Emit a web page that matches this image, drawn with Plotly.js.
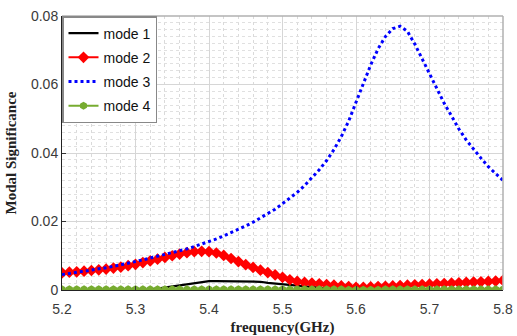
<!DOCTYPE html>
<html>
<head>
<meta charset="utf-8">
<script src="https://cdn.plot.ly/plotly-3.0.1.min.js"></script>
<style>html,body{margin:0;padding:0;background:#fff;}#chart{width:517px;height:336px;}</style>
</head>
<body>
<div id="chart"></div>
<script>
var freq = [5.20,5.21,5.22,5.23,5.24,5.25,5.26,5.27,5.28,5.29,
            5.30,5.31,5.32,5.33,5.34,5.35,5.36,5.37,5.38,5.39,
            5.40,5.41,5.42,5.43,5.44,5.45,5.46,5.47,5.48,5.49,
            5.50,5.51,5.52,5.53,5.54,5.55,5.56,5.57,5.58,5.59,
            5.60,5.61,5.62,5.63,5.64,5.65,5.66,5.67,5.68,5.69,
            5.70,5.71,5.72,5.73,5.74,5.75,5.76,5.77,5.78,5.79,5.80];

var mode1 = [0.0000,0.0000,0.0000,0.0000,0.0000,0.0000,0.0000,0.0001,0.0001,0.0001,
             0.0001,0.0002,0.0002,0.0004,0.0007,0.0010,0.0013,0.0017,0.0021,0.0024,
             0.0026,0.0026,0.0026,0.0026,0.0026,0.0026,0.0025,0.0024,0.0021,0.0019,
             0.0017,0.0014,0.0011,0.0009,0.0007,0.0006,0.0005,0.0005,0.0004,0.0004,
             0.0003,0.0003,0.0003,0.0002,0.0002,0.0002,0.0002,0.0002,0.0001,0.0001,
             0.0001,0.0001,0.0001,0.0001,0.0001,0.0001,0.0001,0.0001,0.0001,0.0001,0.0001];

var mode2 = [0.0050,0.0052,0.0053,0.0055,0.0057,0.0059,0.0061,0.0064,0.0067,0.0071,
             0.0075,0.0080,0.0085,0.0090,0.0095,0.0100,0.0105,0.0109,0.0112,0.0113,
             0.0112,0.0108,0.0101,0.0092,0.0083,0.0074,0.0066,0.0058,0.0051,0.0044,
             0.0037,0.0030,0.0025,0.0022,0.0020,0.0018,0.0016,0.0014,0.0012,0.0010,
             0.0008,0.0008,0.0009,0.0010,0.0011,0.0012,0.0013,0.0014,0.0015,0.0016,
             0.0017,0.0018,0.0019,0.0020,0.0021,0.0022,0.0023,0.0024,0.0025,0.0026,0.0028];

var mode3 = [0.0045,0.0048,0.0051,0.0054,0.0057,0.0061,0.0065,0.0069,0.0073,0.0078,
             0.0083,0.0088,0.0093,0.0098,0.0103,0.0108,0.0114,0.0120,0.0127,0.0134,
             0.0141,0.0149,0.0158,0.0167,0.0176,0.0187,0.0198,0.0210,0.0222,0.0236,
             0.0252,0.0268,0.0285,0.0305,0.0327,0.0351,0.0378,0.0410,0.0448,0.0493,
             0.0548,0.0604,0.0657,0.0704,0.0740,0.0763,0.0770,0.0755,0.0718,0.0675,
             0.0630,0.0585,0.0545,0.0508,0.0470,0.0438,0.0410,0.0385,0.0360,0.0340,0.0320];

var mode4 = [0.0002,0.0002,0.0002,0.0002,0.0002,0.0002,0.0002,0.0002,0.0002,0.0002,
             0.0002,0.0002,0.0002,0.0002,0.0002,0.0002,0.0002,0.0002,0.0002,0.0002,
             0.0002,0.0002,0.0002,0.0002,0.0002,0.0002,0.0002,0.0002,0.0002,0.0002,
             0.0002,0.0002,0.0002,0.0002,0.0002,0.0002,0.0002,0.0002,0.0002,0.0001,
             0.0001,0.0001,0.0001,0.0001,0.0002,0.0002,0.0002,0.0002,0.0002,0.0002,
             0.0002,0.0002,0.0002,0.0002,0.0002,0.0002,0.0002,0.0002,0.0002,0.0002,0.0002];

var seriesNames = ['mode 1','mode 2','mode 3','mode 4'];
var xTicks = [5.2,5.3,5.4,5.5,5.6,5.7,5.8];
var yTicks = [0,0.02,0.04,0.06,0.08];
var yTickText = ['0','0.02','0.04','0.06','0.08'];

var traces = [
  {x: freq, y: mode1, name: seriesNames[0], legendgroup: 'g1', type: 'scatter', mode: 'lines',
   line: {color: '#000000', width: 2.2}},
  {x: freq, y: mode2, name: seriesNames[1], legendgroup: 'g2', type: 'scatter', mode: 'lines+markers',
   line: {color: '#ff0000', width: 2},
   marker: {symbol: 'diamond', size: 9, color: '#ff0000'}},
  {x: freq, y: mode3, name: seriesNames[2], legendgroup: 'g3', type: 'scatter', mode: 'lines',
   line: {color: '#0000ff', width: 3, dash: 'dot'}},
  {x: freq, y: mode4, name: seriesNames[3], legendgroup: 'g4', type: 'scatter', mode: 'lines+markers',
   line: {color: '#77ac30', width: 2},
   marker: {symbol: 'hexagon', size: 8, color: '#77ac30'}}
];

var tickFont = {family: 'Liberation Sans, Arial, sans-serif', size: 14, color: '#3a3a3a'};
var titleFont = {family: 'Liberation Serif, Times New Roman, serif', size: 15, color: '#222222', weight: 'bold'};

var layout = {
  width: 517, height: 336,
  margin: {l: 62, r: 14, t: 16, b: 46},
  paper_bgcolor: '#ffffff', plot_bgcolor: '#ffffff',
  showlegend: true,
  legend: {x: 0, y: 1, xanchor: 'left', yanchor: 'top',
           bgcolor: '#ffffff', bordercolor: '#888888', borderwidth: 1.5,
           font: {family: 'Liberation Sans, Arial, sans-serif', size: 14, color: '#111111'},
           itemwidth: 30, tracegroupgap: 3},
  xaxis: {range: [5.2, 5.8], tickvals: xTicks, ticktext: xTicks.map(function(v){return v.toFixed(1);}),
          ticks: 'inside', ticklen: 4, tickcolor: '#333', showline: true, linecolor: '#222', linewidth: 1,
          showgrid: true, gridcolor: '#d6d6d6', gridwidth: 1, zeroline: false,
          minor: {dtick: 0.02, showgrid: true, gridcolor: '#dadada', griddash: 'dot', gridwidth: 1},
          tickfont: tickFont, ticklabelstandoff: 6,
          title: {text: 'frequency(GHz)', font: titleFont, standoff: 6}},
  yaxis: {range: [0, 0.08], tickvals: yTicks, ticktext: yTickText,
          ticks: 'inside', ticklen: 4, tickcolor: '#333', showline: true, linecolor: '#222', linewidth: 1,
          showgrid: true, gridcolor: '#d6d6d6', gridwidth: 1, zeroline: false,
          minor: {dtick: 0.002, showgrid: true, gridcolor: '#e0e0e0', griddash: 'dot', gridwidth: 1},
          tickfont: tickFont,
          title: {text: 'Modal Significance', font: titleFont, standoff: 10}},
  shapes: [
    {type: 'line', xref: 'paper', yref: 'paper', x0: 0, x1: 1, y0: 1, y1: 1, line: {color: '#b0b0b0', width: 1.5}, layer: 'above'},
    {type: 'line', xref: 'paper', yref: 'paper', x0: 1, x1: 1, y0: 0, y1: 1, line: {color: '#b0b0b0', width: 1.5}, layer: 'above'}
  ]
};

Plotly.newPlot('chart', traces, layout, {displayModeBar: false, staticPlot: true});
</script>
</body>
</html>
